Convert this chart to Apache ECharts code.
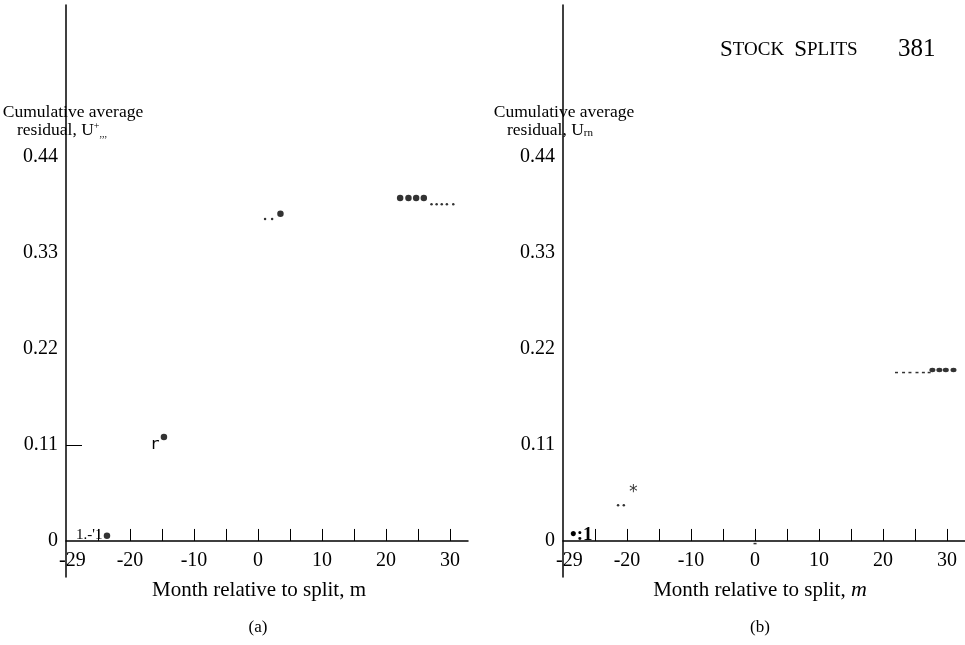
<!DOCTYPE html>
<html>
<head>
<meta charset="utf-8">
<script src="https://cdn.jsdelivr.net/npm/echarts@6/dist/echarts.min.js"></script>
<style>
  html, body { margin: 0; padding: 0; background: #fff; }
  #chart { width: 965px; height: 645px; }
</style>
</head>
<body>
<div id="chart"></div>
<script>
// 两个面板：(a) 与 (b)，累计平均残差 vs 拆股相对月份
const monthTicks = [-25, -20, -15, -10, -5, 0, 5, 10, 15, 20, 25, 30];
const monthLabels = [-29, -20, -10, 0, 10, 20, 30];
const residualLabels = [0, 0.11, 0.22, 0.33, 0.44];

// 面板 (a)
const aBigMonths = [-23.6, -14.7, 3.5, 22.2, 23.5, 24.7, 25.9];
const aBigValues = [0.006, 0.119, 0.375, 0.393, 0.393, 0.393, 0.393];
const aSmallMonths = [1.1, 2.2, 27.1, 27.9, 28.7, 29.5, 30.5];
const aSmallValues = [0.369, 0.369, 0.386, 0.386, 0.386, 0.386, 0.386];

// 面板 (b)
const bSmallMonths = [-21.4, -20.5];
const bSmallValues = [0.041, 0.041];
const bStarMonths = [-19];
const bStarValues = [0.055];
const bDashMonths = [0, 22.1, 23.2, 24.2, 25.3, 26.3, 27.2];
const bDashValues = [-0.003, 0.193, 0.193, 0.193, 0.193, 0.193, 0.193];
const bBigMonths = [27.7, 28.8, 29.8, 31.0];
const bBigValues = [0.196, 0.196, 0.196, 0.196];

const FONT = "Liberation Serif";
const pairs = (xs, ys) => xs.map((x, i) => [x, ys[i]]);

function xAxisFor(gridIndex) {
  return {
    gridIndex, type: "value", min: -30, max: 32.8,
    axisLine: { onZero: true, lineStyle: { color: "#000", width: 1.5 } },
    axisTick: { inside: true, length: 12, customValues: monthTicks, lineStyle: { color: "#000", width: 1 } },
    // 标签紧贴 0 线下方（网格底部比 0 线低 36px）
    axisLabel: { customValues: monthLabels, margin: -26, color: "#000", fontFamily: FONT, fontSize: 20,
                 formatter: v => String(v) },
    splitLine: { show: false }
  };
}
function yAxisFor(gridIndex, ticks) {
  return {
    gridIndex, type: "value", min: -0.0413, max: 0.6142,
    axisLine: { show: true, onZero: false, lineStyle: { color: "#000", width: 1.5 } },
    axisTick: ticks.length ? { show: true, inside: true, length: 16, customValues: ticks, lineStyle: { color: "#000", width: 1 } } : { show: false },
    axisLabel: { customValues: residualLabels, margin: 8, color: "#000", fontFamily: FONT, fontSize: 20,
                 formatter: v => (v === 0 ? "0" : v.toFixed(2)) },
    splitLine: { show: false }
  };
}

// 以 (x, y) 为锚点的文字
function txt(x, y, text, size, align, extra) {
  return {
    type: "text", x, y,
    style: Object.assign({ text, fill: "#000", font: size + "px '" + FONT + "'",
                           textAlign: align || "left", textVerticalAlign: "middle" }, extra || {})
  };
}

const chart = echarts.init(document.getElementById("chart"), null, { renderer: "canvas" });
chart.setOption({
  backgroundColor: "#fff",
  animation: false,
  grid: [
    { left: 66, top: 5, width: 402, height: 572 },
    { left: 563, top: 5, width: 402, height: 572 }
  ],
  xAxis: [xAxisFor(0), xAxisFor(1)],
  yAxis: [yAxisFor(0, [0.11]), yAxisFor(1, [])],
  series: [
    { type: "scatter", xAxisIndex: 0, yAxisIndex: 0, data: pairs(aBigMonths, aBigValues),
      symbol: "circle", symbolSize: 6.5, itemStyle: { color: "#000" } },
    { type: "scatter", xAxisIndex: 0, yAxisIndex: 0, data: pairs(aSmallMonths, aSmallValues),
      symbol: "circle", symbolSize: 2.5, itemStyle: { color: "#000" } },
    { type: "scatter", xAxisIndex: 1, yAxisIndex: 1, data: pairs(bSmallMonths, bSmallValues),
      symbol: "circle", symbolSize: 2.5, itemStyle: { color: "#000" } },
    { type: "scatter", xAxisIndex: 1, yAxisIndex: 1, data: pairs(bStarMonths, bStarValues),
      symbol: "circle", symbolSize: 1, itemStyle: { color: "rgba(0,0,0,0)" },
      label: { show: true, position: "inside", formatter: "*", color: "#000",
               fontFamily: "DejaVu Sans Mono", fontSize: 17 } },
    { type: "scatter", xAxisIndex: 1, yAxisIndex: 1, data: pairs(bDashMonths, bDashValues),
      symbol: "rect", symbolSize: [3, 1.5], itemStyle: { color: "#000" } },
    { type: "scatter", xAxisIndex: 1, yAxisIndex: 1, data: pairs(bBigMonths, bBigValues),
      symbol: "circle", symbolSize: [6, 4.5], itemStyle: { color: "#000" } }
  ],
  graphic: [
    // 页眉
    { type: "text", x: 720, y: 50,
      style: { text: "{b|S}{s|TOCK}   {b|S}{s|PLITS}", fill: "#000", textVerticalAlign: "middle",
               rich: { b: { fontFamily: FONT, fontSize: 23, fill: "#000" },
                       s: { fontFamily: FONT, fontSize: 19, fill: "#000" } } } },
    txt(898, 49, "381", 25),

    // (a) 纵轴标题
    txt(73, 112, "Cumulative average", 17.5, "center"),
    { type: "text", x: 17, y: 130,
      style: { text: "residual, U{sup|+}{sub|,,,}", fill: "#000", font: "17.5px '" + FONT + "'",
               textVerticalAlign: "middle",
               rich: { sup: { fontFamily: FONT, fontSize: 10, verticalAlign: "top", padding: [0, 0, 8, 0] },
                       sub: { fontFamily: FONT, fontSize: 10, verticalAlign: "bottom" } } } },
    // (b) 纵轴标题
    txt(564, 112, "Cumulative average", 17.5, "center"),
    { type: "text", x: 507, y: 130,
      style: { text: "residual, U{sub|rn}", fill: "#000", font: "17.5px '" + FONT + "'",
               textVerticalAlign: "middle",
               rich: { sub: { fontFamily: FONT, fontSize: 11, verticalAlign: "bottom" } } } },

    // 识别残留的杂字
    txt(76, 535, "1.-'1", 15),
    { type: "text", x: 150, y: 445,
      style: { text: "r", fill: "#000", font: "16px 'DejaVu Sans Mono'", textVerticalAlign: "middle" } },
    { type: "text", x: 570, y: 535,
      style: { text: "•:1", fill: "#000", font: "bold 19px '" + FONT + "'", textVerticalAlign: "middle" } },

    // 横轴标题与面板标注
    txt(259, 590, "Month relative to split, m", 21, "center"),
    { type: "text", x: 760, y: 590,
      style: { text: "Month relative to split, {i|m}", fill: "#000", font: "21px '" + FONT + "'",
               textAlign: "center", textVerticalAlign: "middle",
               rich: { i: { fontFamily: FONT, fontSize: 22, fontStyle: "italic" } } } },
    txt(258, 628, "(a)", 17, "center"),
    txt(760, 628, "(b)", 17, "center")
  ]
});
</script>
</body>
</html>
